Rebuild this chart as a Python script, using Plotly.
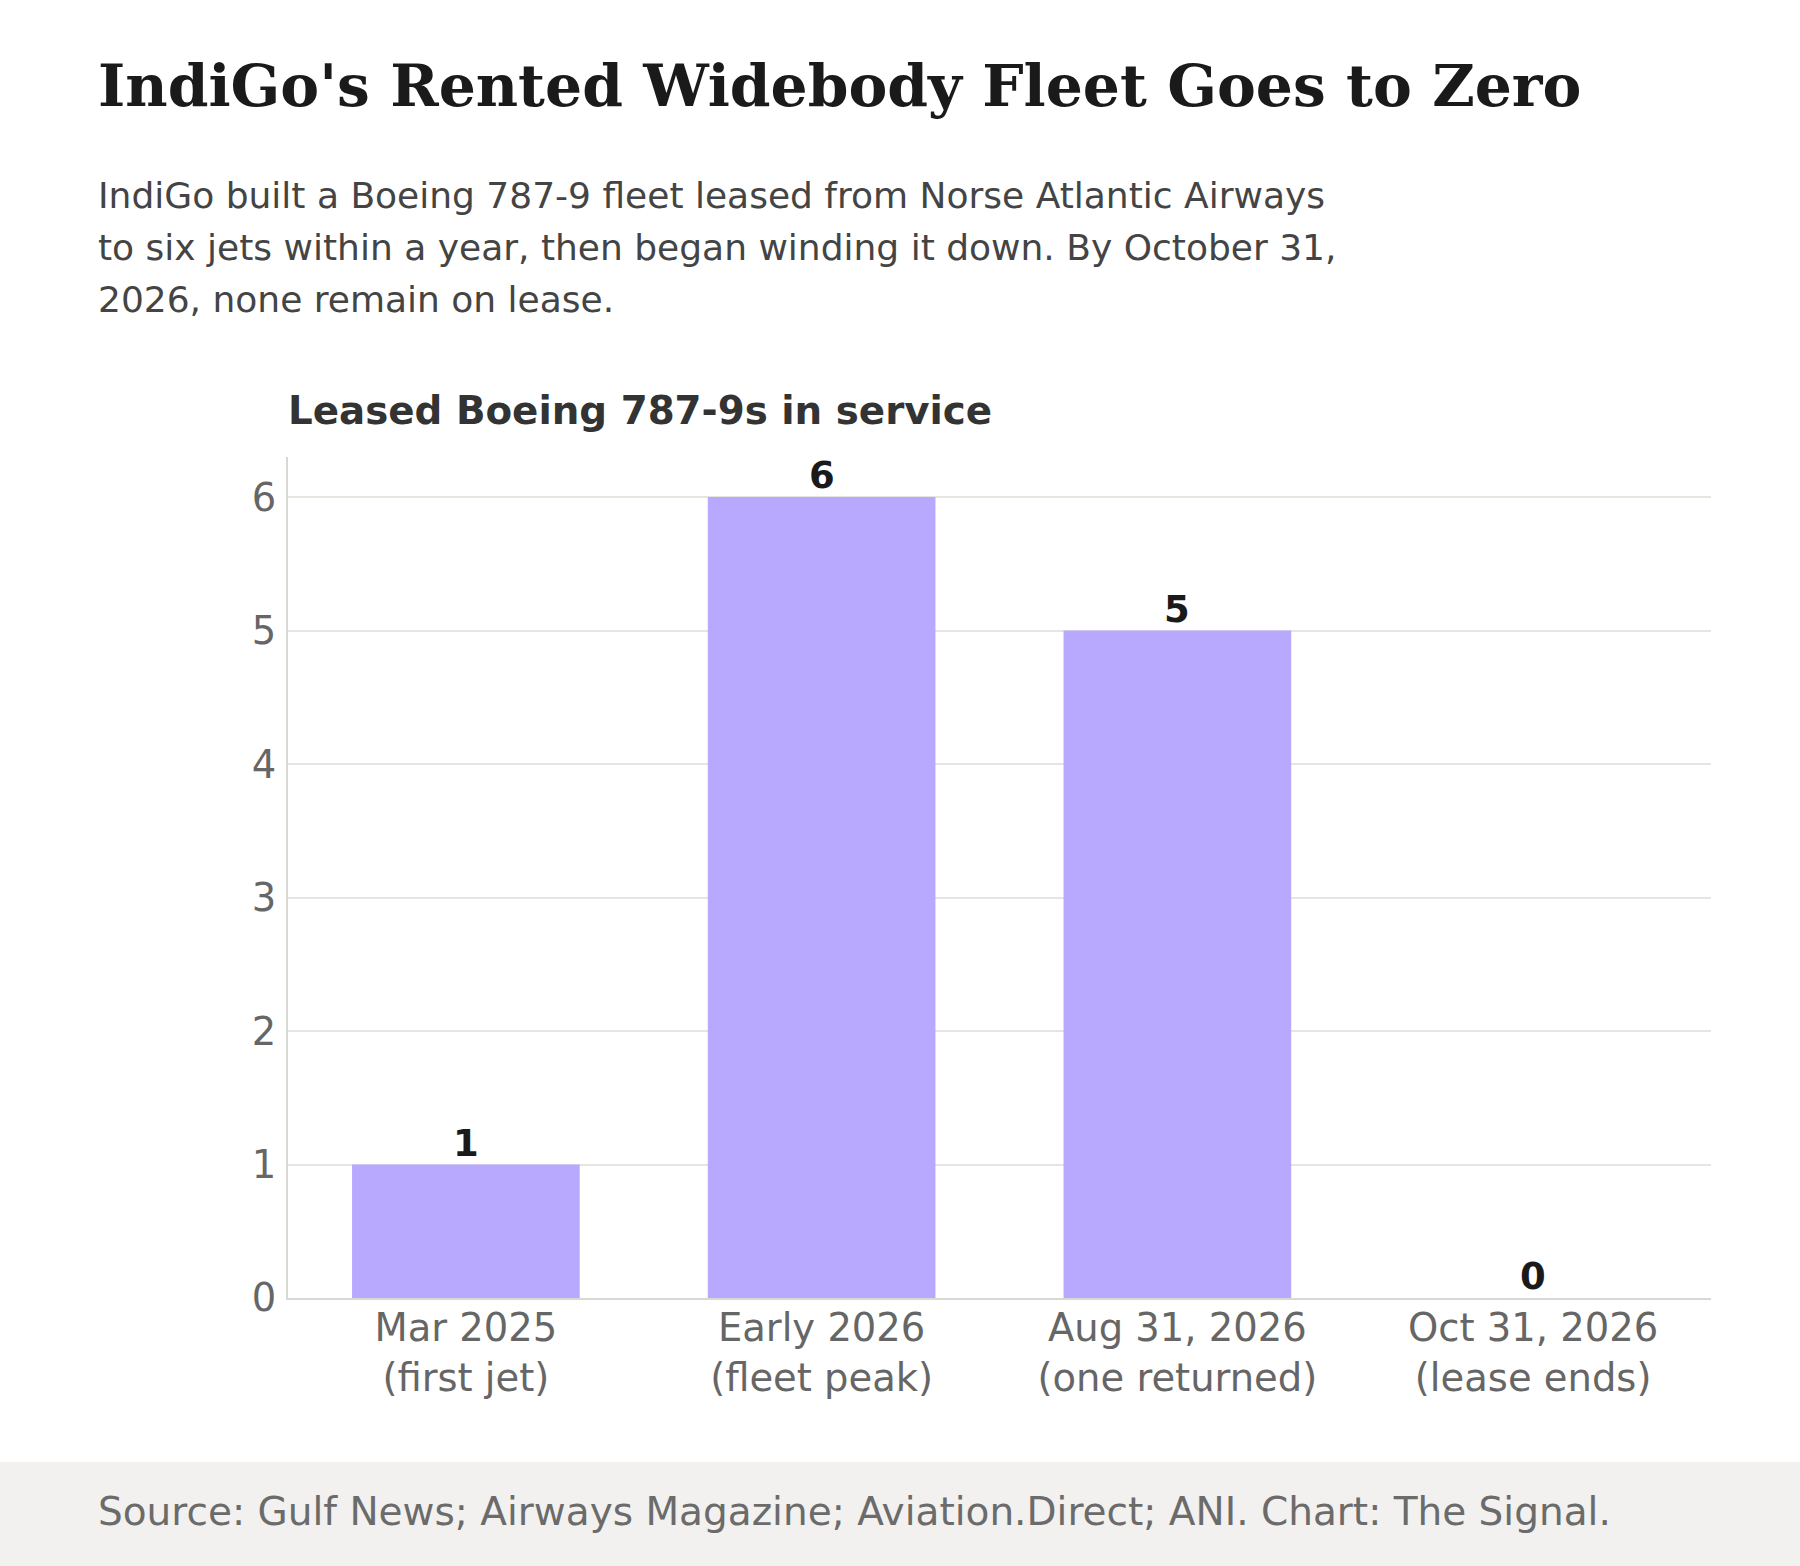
import plotly.graph_objects as go

# ---- data ----
categories = ["Mar 2025", "Early 2026", "Aug 31, 2026", "Oct 31, 2026"]
sublabels = ["(first jet)", "(fleet peak)", "(one returned)", "(lease ends)"]
jets = [1, 6, 5, 0]
y_ticks = [0, 1, 2, 3, 4, 5, 6]

title_text = "IndiGo's Rented Widebody Fleet Goes to Zero"
subtitle_lines = [
    "IndiGo built a Boeing 787-9 fleet leased from Norse Atlantic Airways",
    "to six jets within a year, then began winding it down. By October 31,",
    "2026, none remain on lease.",
]
chart_title = "Leased Boeing 787-9s in service"
source_text = "Source: Gulf News; Airways Magazine; Aviation.Direct; ANI. Chart: The Signal."

# ---- layout geometry (pixels) ----
W, H = 1800, 1566
L, R, T, B = 288, 89, 457, 268
PW = W - L - R
PH = H - T - B


def px(x):
    return (x - L) / PW


def py(y):
    return (H - B - y) / PH


SANS = "DejaVu Sans"
fig = go.Figure()
fig.add_trace(go.Bar(
    x=categories, y=jets,
    marker=dict(color="#b8a9ff", line=dict(width=0)),
    hoverinfo="skip",
))

annotations = []
annotations.append(dict(
    text=f"<b>{title_text}</b>", x=px(96), y=py(85.5), xref="paper", yref="paper",
    xanchor="left", yanchor="middle", showarrow=False,
    font=dict(family="DejaVu Serif", size=58.3, color="#1a1a1a"),
))
for line, base in zip(subtitle_lines, [208.3, 260, 311.7]):
    annotations.append(dict(
        text=line, x=px(96), y=py(base - 12.5), xref="paper", yref="paper",
        xanchor="left", yanchor="middle", showarrow=False,
        font=dict(family=SANS, size=36, color="#444444"),
    ))
annotations.append(dict(
    text=f"<b>{chart_title}</b>", x=px(286), y=py(424 - 13.4), xref="paper", yref="paper",
    xanchor="left", yanchor="middle", showarrow=False,
    font=dict(family=SANS, size=38.8, color="#333333"),
))
annotations.append(dict(
    text=source_text, x=px(96), y=py(1524.5 - 13.5), xref="paper", yref="paper",
    xanchor="left", yanchor="middle", showarrow=False,
    font=dict(family=SANS, size=39, color="#6b6b6b"),
))
for c, v in zip(categories, jets):
    annotations.append(dict(
        text=f"<b>{v}</b>", x=c, y=v, xref="x", yref="y",
        xanchor="center", yanchor="bottom", showarrow=False, yshift=-2,
        font=dict(family=SANS, size=37, color="#1a1a1a"),
    ))

fig.update_layout(
    width=W, height=H,
    margin=dict(l=L, r=R, t=T, b=B, pad=0),
    paper_bgcolor="white", plot_bgcolor="white",
    showlegend=False,
    bargap=0.36,
    annotations=annotations,
    shapes=[dict(
        type="rect", xref="paper", yref="paper",
        x0=px(0), x1=px(W), y0=py(H), y1=py(1462),
        fillcolor="#f2f1ef", line=dict(width=0), layer="below",
    )],
    xaxis=dict(
        tickvals=categories,
        ticktext=[f"{c}<br>{s}" for c, s in zip(categories, sublabels)],
        tickfont=dict(family=SANS, size=38.5, color="#666666"),
        showline=True, linecolor="#d9d9d4", linewidth=2,
        showgrid=False, ticks="", ticklabelstandoff=-5, fixedrange=True,
    ),
    yaxis=dict(
        range=[0, 6.3], tickvals=y_ticks,
        tickfont=dict(family=SANS, size=38.5, color="#666666"),
        showline=True, linecolor="#d9d9d4", linewidth=2,
        showgrid=True, gridcolor="#e6e6e1", gridwidth=1.5,
        zeroline=False, ticks="", ticklabelstandoff=2, fixedrange=True,
    ),
)

fig.write_html("out.html", config={"displayModeBar": False},
               post_script="document.body.style.margin='0';")
